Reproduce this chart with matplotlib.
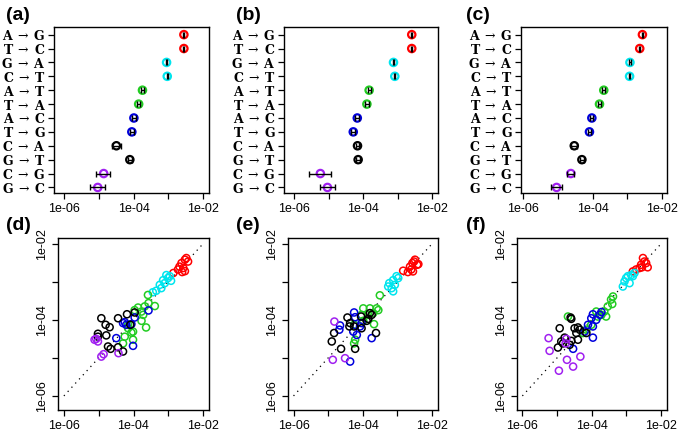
import numpy as np
import matplotlib
matplotlib.use("Agg")
import matplotlib.pyplot as plt

# mutation categories (top to bottom) and colours
muts = ["A → G", "T → C", "G → A", "C → T", "A → T", "T → A",
        "A → C", "T → G", "C → A", "G → T", "C → G", "G → C"]
cols = ["#FF0000", "#FF0000", "#00E5EE", "#00E5EE", "#22CC22", "#22CC22",
        "#0000DD", "#0000DD", "#000000", "#000000", "#A020F0", "#A020F0"]

# top row: rates with lower / upper bounds
a_rate = [2.8e-3, 2.8e-3, 8.9e-4, 9.3e-4, 1.8e-4, 1.4e-4, 1.02e-4, 8.9e-5, 3.2e-5, 7.8e-5, 1.38e-5, 9.3e-6]
a_lo = [2.7e-3, 2.7e-3, 8.7e-4, 9.1e-4, 1.6e-4, 1.25e-4, 9.0e-5, 7.8e-5, 2.4e-5, 6.8e-5, 8.5e-6, 5.6e-6]
a_hi = [2.9e-3, 2.9e-3, 9.1e-4, 9.5e-4, 2.0e-4, 1.55e-4, 1.15e-4, 1.0e-4, 4.3e-5, 8.9e-5, 2.1e-5, 1.55e-5]

b_rate = [2.57e-3, 2.57e-3, 7.6e-4, 8.3e-4, 1.5e-4, 1.29e-4, 6.8e-5, 5.2e-5, 6.9e-5, 7.2e-5, 5.8e-6, 9.3e-6]
b_lo = [2.5e-3, 2.5e-3, 7.4e-4, 8.1e-4, 1.35e-4, 1.15e-4, 6.0e-5, 4.6e-5, 6.2e-5, 6.4e-5, 2.7e-6, 5.6e-6]
b_hi = [2.65e-3, 2.65e-3, 7.8e-4, 8.5e-4, 1.68e-4, 1.45e-4, 7.6e-5, 5.8e-5, 7.7e-5, 8.0e-5, 1.15e-5, 1.55e-5]

c_rate = [2.75e-3, 2.3e-3, 1.2e-3, 1.17e-3, 2.1e-4, 1.58e-4, 9.5e-5, 8.1e-5, 2.95e-5, 4.9e-5, 2.35e-5, 9.1e-6]
c_lo = [2.65e-3, 2.2e-3, 1.15e-3, 1.12e-3, 1.9e-4, 1.42e-4, 8.5e-5, 7.2e-5, 2.45e-5, 4.4e-5, 1.87e-5, 6.3e-6]
c_hi = [2.85e-3, 2.4e-3, 1.25e-3, 1.22e-3, 2.35e-4, 1.78e-4, 1.06e-4, 9.1e-5, 3.55e-5, 5.5e-5, 2.95e-5, 1.32e-5]

# bottom row: scatter points per colour group
d_red_x = [3.3e-3, 3.0e-3, 3.7e-3, 2.4e-3, 2.1e-3, 2.7e-3, 1.9e-3, 3.0e-3, 1.4e-3, 2.5e-3]
d_red_y = [4.2e-3, 3.8e-3, 3.4e-3, 3.1e-3, 2.5e-3, 2.3e-3, 2.1e-3, 1.9e-3, 1.7e-3, 1.8e-3]
d_cyan_x = [8.8e-4, 9.8e-4, 7.1e-4, 1.2e-3, 7.9e-4, 5.7e-4, 6.3e-4, 4.5e-4, 3.6e-4, 1.1e-3]
d_cyan_y = [1.5e-3, 1.25e-3, 1.1e-3, 1.06e-3, 9.2e-4, 8.3e-4, 6.8e-4, 5.8e-4, 5.3e-4, 1.4e-3]
d_green_x = [2.6e-4, 2.7e-4, 4.1e-4, 2.1e-4, 1.35e-4, 1.7e-4, 1.9e-4, 1.08e-4, 1.7e-4,
             2.3e-4, 9.7e-5, 8.7e-5, 7.0e-5, 5.0e-5, 5.6e-5, 9.7e-5, 7.0e-5]
d_green_y = [4.5e-4, 2.75e-4, 2.3e-4, 2.25e-4, 2.1e-4, 1.65e-4, 1.35e-4, 1.8e-4, 9.4e-5,
             6.3e-5, 4.9e-5, 4.6e-5, 6.0e-5, 2.4e-5, 3.6e-5, 3.0e-5, 7.4e-5]
d_blue_x = [2.7e-4, 1.08e-4, 5.6e-5, 6.2e-5, 8.7e-5, 3.2e-5, 9.7e-5, 5.0e-5]
d_blue_y = [1.76e-4, 1.15e-4, 8.7e-5, 7.4e-5, 7.7e-5, 3.3e-5, 2.07e-5, 8.2e-5]
d_black_x = [1.19e-5, 1.58e-5, 2.06e-5, 9.5e-6, 1.65e-5, 3.6e-5, 6.5e-5, 1.08e-4, 8.1e-5,
             1.85e-5, 2.2e-5, 3.6e-5, 5.0e-5, 9.5e-6]
d_black_y = [1.1e-4, 7.4e-5, 6.4e-5, 4.3e-5, 3.9e-5, 1.1e-4, 1.4e-4, 1.56e-4, 7.4e-5,
             1.99e-5, 1.73e-5, 1.9e-5, 1.47e-5, 3.6e-5]
d_purple_x = [8.5e-6, 9.5e-6, 7.6e-6, 1.19e-5, 1.38e-5, 3.7e-5]
d_purple_y = [3.16e-5, 2.7e-5, 3.0e-5, 1.08e-5, 1.25e-5, 1.33e-5]

e_red_x = [3.2e-3, 2.7e-3, 3.7e-3, 2.3e-3, 2.5e-3, 2.0e-3, 1.46e-3, 2.8e-3, 4.0e-3, 3.0e-3]
e_red_y = [3.8e-3, 3.1e-3, 2.8e-3, 2.5e-3, 2.1e-3, 1.8e-3, 1.95e-3, 1.87e-3, 2.9e-3, 3.4e-3]
e_cyan_x = [9.4e-4, 7.5e-4, 5.8e-4, 8.4e-4, 6.8e-4, 7.5e-4, 5.4e-4, 1.05e-3]
e_cyan_y = [1.4e-3, 1.1e-3, 9.2e-4, 8.3e-4, 6.8e-4, 5.6e-4, 7.5e-4, 1.25e-3]
e_green_x = [3.1e-4, 2.5e-4, 1.6e-4, 1.03e-4, 2.8e-4, 2.0e-4, 1.44e-4, 1.03e-4, 2.1e-4,
             5.6e-5, 6.0e-5, 5.6e-5, 9.2e-5]
e_green_y = [4.4e-4, 2.0e-4, 2.0e-4, 2.0e-4, 1.8e-4, 1.5e-4, 1.35e-4, 9.4e-5, 7.7e-5,
             7.4e-5, 3.0e-5, 2.4e-5, 1.35e-4]
e_blue_x = [5.6e-5, 2.2e-5, 2.1e-5, 5.3e-5, 6.7e-5, 6.0e-5, 9.2e-5, 1.8e-4, 4.3e-5, 8.3e-5]
e_blue_y = [1.56e-4, 7.1e-5, 5.5e-5, 4.9e-5, 4.0e-5, 1.17e-4, 8.2e-5, 3.3e-5, 8.0e-6, 6.7e-5]
e_black_x = [3.6e-5, 4.3e-5, 4.1e-5, 5.6e-5, 8.9e-5, 9.2e-5, 1.44e-4, 1.6e-4, 1.8e-4,
             1.48e-5, 1.27e-5, 2.35e-5, 6.0e-5, 2.4e-4, 1.29e-4]
e_black_y = [1.15e-4, 8.2e-5, 6.7e-5, 6.7e-5, 1.22e-4, 6.0e-5, 1.06e-4, 1.5e-4, 1.35e-4,
             4.5e-5, 2.7e-5, 1.73e-5, 1.73e-5, 4.5e-5, 9.4e-5]
e_purple_x = [1.51e-5, 1.36e-5, 3.07e-5]
e_purple_y = [9.0e-5, 8.9e-6, 9.8e-6]

f_red_x = [3.0e-3, 3.3e-3, 4.1e-3, 2.65e-3, 2.4e-3, 1.9e-3, 1.53e-3, 3.7e-3, 2.8e-3]
f_red_y = [4.2e-3, 3.4e-3, 2.4e-3, 2.8e-3, 2.3e-3, 2.1e-3, 1.87e-3, 3.1e-3, 2.4e-3]
f_cyan_x = [1.37e-3, 1.1e-3, 9.8e-4, 8.8e-4, 1.23e-3, 1.53e-3, 7.9e-4, 1.71e-3]
f_cyan_y = [1.5e-3, 1.4e-3, 1.25e-3, 1.02e-3, 9.2e-4, 1.4e-3, 7.5e-4, 1.7e-3]
f_green_x = [4.1e-4, 3.6e-4, 3.9e-4, 2.9e-4, 2.3e-4, 2.6e-4, 1.35e-4, 1.5e-4, 9.7e-5,
             7.0e-5, 5.6e-5, 2.06e-5, 1.9e-4]
f_green_y = [4.1e-4, 3.4e-4, 2.6e-4, 2.25e-4, 1.65e-4, 1.22e-4, 1.65e-4, 1.22e-4, 7.4e-5,
             5.5e-5, 4.5e-5, 1.22e-4, 1.35e-4]
f_blue_x = [1.9e-4, 1.08e-4, 9.7e-5, 1.35e-4, 1.08e-4, 7.8e-5, 1.08e-4, 6.2e-5, 2.9e-5, 1.7e-4]
f_blue_y = [1.6e-4, 1.4e-4, 1.1e-4, 1.0e-4, 6.7e-5, 7.4e-5, 3.4e-5, 4.9e-5, 1.73e-5, 1.35e-4]
f_black_x = [2.46e-5, 2.57e-5, 1.19e-5, 3.2e-5, 4.0e-5, 4.5e-5, 3.6e-5, 7.0e-5, 1.65e-5,
             1.32e-5, 1.06e-5, 1.48e-5, 2.57e-5, 4.0e-5, 2.3e-5]
f_black_y = [1.15e-4, 1.06e-4, 6.0e-5, 6.0e-5, 6.3e-5, 5.5e-5, 4.5e-5, 4.5e-5, 3.4e-5,
             2.7e-5, 1.87e-5, 2.4e-5, 2.8e-5, 3.0e-5, 2.2e-5]
f_purple_x = [5.7e-6, 6.1e-6, 1.85e-5, 1.77e-5, 1.93e-5, 1.13e-5, 2.9e-5, 4.7e-5]
f_purple_y = [3.3e-5, 1.53e-5, 3.16e-5, 2.4e-5, 8.9e-6, 4.6e-6, 5.9e-6, 1.08e-5]

decades = [1e-6, 1e-5, 1e-4, 1e-3, 1e-2]
dec_labels = ["1e-06", "", "1e-04", "", "1e-02"]

plt.rcParams['font.family'] = ['Liberation Sans', 'DejaVu Sans']
plt.rcParams['mathtext.fontset'] = 'dejavuserif'

W, H = 685, 433
fig = plt.figure(figsize=(W / 100, H / 100), dpi=100)


def px_axes(l, t, r, b):
    return fig.add_axes([l / W, 1 - b / H, (r - l) / W, (b - t) / H])


def style(ax):
    for s in ax.spines.values():
        s.set_linewidth(1.0)
    ax.tick_params(direction='out', length=4, width=0.9, labelsize=9, pad=3)


def dotplot(ax, rate, lo, hi, xlim):
    rate, lo, hi = np.array(rate), np.array(lo), np.array(hi)
    ypos = np.arange(len(muts))
    ax.set_xscale('log')
    ax.scatter(rate, ypos, s=28, facecolors='none', edgecolors=cols, linewidths=1.6, zorder=2)
    ax.errorbar(rate, ypos, xerr=[rate - lo, hi - rate], fmt='none', ecolor='black',
                elinewidth=1.0, capsize=2.5, capthick=1.0, zorder=3)
    ax.set_xlim(*xlim)
    ax.set_ylim(len(muts) - 0.6, -0.55)
    ax.set_xticks(decades)
    ax.set_xticklabels(dec_labels)
    ax.minorticks_off()
    ax.set_yticks(ypos)
    labs = [m.replace(" → ", r"$\;\rightarrow\;$") for m in muts]
    style(ax)
    ax.set_yticklabels(labs, family=['DejaVu Serif'], fontweight='bold', fontsize=9)
    ax.tick_params(axis='y', pad=2)


def scatter(ax, groups, xlim):
    ax.set_xscale('log')
    ax.set_yscale('log')
    ax.plot([1e-6, 1e-2], [1e-6, 1e-2], color='black', lw=0.9, dashes=(1, 3.5), zorder=1)
    for xs, ys, c in groups:
        ax.scatter(xs, ys, s=26, facecolors='none', edgecolors=c, linewidths=1.1, zorder=2)
    ax.set_xlim(*xlim)
    ax.set_ylim(10 ** -6.37, 10 ** -1.85)
    ax.set_xticks(decades)
    ax.set_xticklabels(dec_labels)
    ax.set_yticks(decades)
    ax.set_yticklabels(dec_labels, rotation=90, va='center')
    ax.minorticks_off()
    style(ax)


ax_a = px_axes(54, 27, 209, 193)
dotplot(ax_a, a_rate, a_lo, a_hi, (10 ** -6.29, 10 ** -1.83))
ax_b = px_axes(284, 27, 438, 193)
dotplot(ax_b, b_rate, b_lo, b_hi, (10 ** -6.29, 10 ** -1.83))
ax_c = px_axes(521, 27, 667, 193)
dotplot(ax_c, c_rate, c_lo, c_hi, (10 ** -6.07, 10 ** -1.85))

grp_cols = ["#FF0000", "#00E5EE", "#22CC22", "#0000DD", "#000000", "#A020F0"]
ax_d = px_axes(58, 238, 209, 410)
scatter(ax_d, zip([d_red_x, d_cyan_x, d_green_x, d_blue_x, d_black_x, d_purple_x],
                  [d_red_y, d_cyan_y, d_green_y, d_blue_y, d_black_y, d_purple_y], grp_cols),
        (10 ** -6.17, 10 ** -1.83))
ax_e = px_axes(288, 238, 438, 410)
scatter(ax_e, zip([e_red_x, e_cyan_x, e_green_x, e_blue_x, e_black_x, e_purple_x],
                  [e_red_y, e_cyan_y, e_green_y, e_blue_y, e_black_y, e_purple_y], grp_cols),
        (10 ** -6.16, 10 ** -1.83))
ax_f = px_axes(517, 238, 667, 410)
scatter(ax_f, zip([f_red_x, f_cyan_x, f_green_x, f_blue_x, f_black_x, f_purple_x],
                  [f_red_y, f_cyan_y, f_green_y, f_blue_y, f_black_y, f_purple_y], grp_cols),
        (10 ** -6.155, 10 ** -1.83))

for lab, x, y in [("(a)", 6, 16), ("(b)", 236, 16), ("(c)", 466, 16),
                  ("(d)", 6, 225), ("(e)", 236, 225), ("(f)", 466, 225)]:
    fig.text(x / W, 1 - y / H, lab, fontsize=14, fontweight='bold', ha='left', va='center')

fig.savefig("out.png", dpi=100)
